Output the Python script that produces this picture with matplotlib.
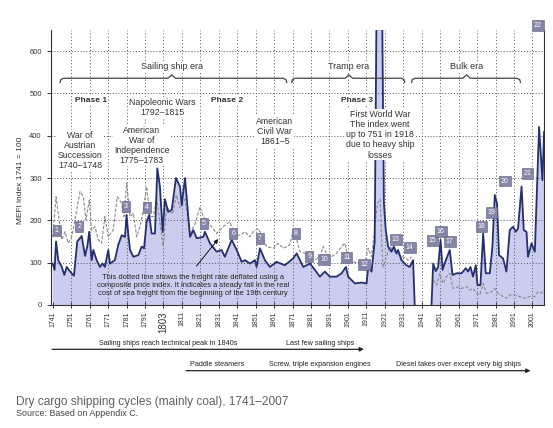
import numpy as np
import matplotlib
matplotlib.use("Agg")
import matplotlib.pyplot as plt

plt.rcParams['font.family'] = ['Liberation Sans', 'DejaVu Sans']

# MEFI index (1741 = 100), solid line; nan = no data during WW2
mefi_years = [1741, 1742, 1742.8, 1744, 1745.9, 1747.3, 1748.6, 1750.4, 1752.5, 1754.3,
              1756.7, 1758.5, 1759.7, 1760.8, 1762.1, 1763, 1764.8, 1766.6, 1768, 1769.3,
              1771.1, 1772, 1774.7, 1776.5, 1778.4, 1780.2, 1781, 1782, 1782.9, 1784.7,
              1787.4, 1789.2, 1790.5, 1791.9, 1793.3, 1794.6, 1796.4, 1797.7, 1799.1, 1800.6,
              1801.8, 1803.6, 1805.5, 1807.8, 1810, 1810.9, 1812.7, 1815.4, 1817.2, 1819,
              1822.6, 1823.5, 1826.2, 1829.8, 1832.5, 1834.3, 1838, 1840.7, 1843.4, 1845.2,
              1847.9, 1850.6, 1851.5, 1853.3, 1856, 1858.7, 1862.3, 1866.8, 1871.3, 1873.2,
              1876.8, 1880.4, 1883.1, 1885.8, 1888.5, 1891.2, 1894.8, 1897.6, 1899.9, 1901.1,
              1904.8, 1908.4, 1911.1, 1912, 1913.8, 1915.5, 1916.5, 1917.5, 1918.5, 1919.5,
              1920.5, 1921.5, 1922.8, 1924.6, 1925.9, 1927.3, 1928.2, 1930, 1932.7, 1934.5,
              1936.3, 1937.2, 1941, 1946.3, 1947.2, 1948.6, 1949.9, 1951.2, 1952.3, 1953.5,
              1954.8, 1956.2, 1957.7, 1959.9, 1962.6, 1964.9, 1966.1, 1967.4, 1968.8, 1970.3,
              1971.2, 1972.8, 1974.3, 1975.7, 1977.9, 1979.3, 1980.6, 1981.8, 1982.9, 1985.1,
              1986.9, 1988.7, 1990.5, 1992, 1993.2, 1995.1, 1996.3, 1997.8, 1998.6, 2000.5,
              2002.3, 2004.6, 2006.4, 2007.3]
mefi_values = [98, 83, 150, 106, 90, 71, 90, 79, 69, 150,
               163, 116, 138, 173, 106, 130, 106, 90, 98, 90,
               130, 98, 106, 142, 165, 161, 213, 165, 130, 114,
               118, 138, 134, 197, 213, 169, 169, 323, 280, 173,
               250, 220, 225, 300, 280, 236, 300, 161, 177, 158,
               161, 173, 146, 126, 130, 114, 154, 130, 102, 106,
               98, 106, 90, 134, 106, 90, 102, 94, 110, 122,
               90, 98, 83, 67, 79, 67, 67, 75, 90, 67,
               51, 53, 51, 90, 79, 150, 700, 740, 751, 720,
               240, 177, 138, 126, 138, 122, 130, 106, 94, 90,
               106, 0, np.nan, 0, 98, 80, 90, 154, 83, 100,
               114, 130, 71, 75, 75, 87, 79, 90, 67, 94,
               47, 47, 169, 75, 75, 138, 260, 240, 118, 110,
               79, 177, 185, 173, 181, 280, 177, 173, 114, 146,
               126, 421, 295, 409]

# deflated freight rate (dotted line)
defl_years = [1741, 1742.8, 1745.9, 1747.7, 1749.4, 1751.3, 1755.8, 1757.6, 1759, 1760.8,
              1762.1, 1763.9, 1765.7, 1767.5, 1769.3, 1771.1, 1773.8, 1776, 1778.4, 1779.6,
              1781.1, 1782.9, 1784.7, 1786.5, 1788.3, 1790.1, 1791.9, 1793.7, 1795.5, 1797.3,
              1800.9, 1802.7, 1806, 1808, 1810, 1812.7, 1815.4, 1818, 1820.8, 1822.6,
              1827.1, 1829.8, 1833.4, 1837, 1839.7, 1842.4, 1845.2, 1847.9, 1849.7, 1852.4,
              1854.2, 1856.9, 1860.5, 1863.2, 1865.9, 1869.5, 1871.5, 1873.5, 1875, 1877.7,
              1880.4, 1883.1, 1885.8, 1887.6, 1889.4, 1892.1, 1894.8, 1897.6, 1899.3, 1901.1,
              1903.8, 1907.5, 1910.2, 1912, 1913.8, 1915.5, 1917, 1918.5, 1919.3, 1920,
              1923.7, 1927.3, 1930.9, 1933.6, 1935.5, 1941, 1947.2, 1949, 1950.8, 1952.6,
              1954.4, 1956.2, 1958, 1960.7, 1962.6, 1965.3, 1967.1, 1968.8, 1970.7, 1972.5,
              1974.3, 1976.1, 1978.8, 1980.6, 1982.4, 1985.1, 1986.9, 1988.7, 1991.4, 1994.1,
              1996.8, 1999.5, 2002.3, 2004, 2005.9, 2007]
defl_values = [160, 256, 154, 173, 146, 161, 268, 256, 201, 248,
               177, 185, 154, 146, 209, 161, 177, 256, 240, 209,
               288, 209, 217, 161, 185, 225, 280, 209, 209, 252,
               138, 232, 215, 260, 230, 250, 170, 190, 232, 209,
               185, 169, 185, 197, 165, 165, 173, 161, 173, 181,
               165, 138, 134, 146, 134, 142, 180, 150, 126, 122,
               114, 106, 114, 138, 122, 114, 122, 138, 146, 114,
               102, 98, 98, 134, 114, 180, 240, 250, 150, 90,
               138, 122, 114, 106, 114, np.nan, 59, 47, 75, 51,
               67, 75, 39, 43, 39, 43, 35, 39, 28, 24,
               51, 28, 31, 39, 28, 20, 16, 24, 24, 20,
               16, 20, 20, 31, 28, 35]

# numbered cycle markers
cycle_years = [1743.2, 1755.4, 1780.7, 1792.2, 1823, 1838.8, 1853.3, 1872.8, 1880, 1888.1, 1900.3,
               1909.8, 1927, 1934.5, 1946.8, 1951.3, 1956.2, 1973.4, 1978.8, 1986, 1998.3, 2004]
cycle_values = [176, 185, 232, 230, 193, 168, 158, 168, 114, 108, 112,
                95, 155, 135, 152, 173, 150, 185, 219, 293, 311, 660]
cycle_labels = [str(i) for i in range(1, 23)]

tick_years = list(range(1741, 2002, 10))
tick_labels = [str(y) for y in tick_years]
tick_labels[6] = '1803'

era_names = ['Sailing ship era', 'Tramp era', 'Bulk era']
era_start = [1745, 1870.5, 1935.5]
era_end = [1867.8, 1931.8, 1994.5]
era_mid = [1805.5, 1901.5, 1965.3]

navy = '#24306e'
fill_c = '#cbcdef'
txt_c = '#333333'

fig = plt.figure(figsize=(5.53, 4.28), dpi=100)
ax = fig.add_axes([0.092, 0.2874, 0.8925, 0.6425])

my = np.array(mefi_years)
mv = np.array(mefi_values, dtype=float)
ax.fill_between(my, 0, mv, color=fill_c, lw=0, zorder=1)
ax.plot(my, np.clip(mv, 0, 800), color=navy, lw=1.3, zorder=3)
ax.plot(defl_years, defl_values, color='#8a8a8a', lw=0.8, ls=(0, (3, 1.5)), zorder=2.6)

ax.set_xlim(1740, 2007.5)
ax.set_ylim(0, 650)

# grid
ax.set_axisbelow(False)
ax.set_yticks(range(0, 700, 100))
ax.set_xticks(tick_years)
ax.set_xticklabels(tick_labels, rotation=90, fontsize=5, color=txt_c)
for lab in ax.get_xticklabels():
    if lab.get_text() == '1803':
        lab.set_fontsize(7)
ax.tick_params(axis='y', labelsize=5.5, labelcolor=txt_c, length=3, width=0.7, color='#333')
ax.tick_params(axis='x', direction='inout', length=5, width=0.7, color='#333', pad=2)
for y in range(100, 700, 100):
    ax.axhline(y, color='#555', lw=0.7, ls=(0, (1, 2)), zorder=2.5)
for x in tick_years[1:]:
    ax.axvline(x, color='#555', lw=0.7, ls=(0, (1, 2.4)), zorder=2.5)

for s in ['top']:
    ax.spines[s].set_visible(False)
for s in ['left', 'bottom', 'right']:
    ax.spines[s].set_color('#333')
    ax.spines[s].set_linewidth(0.8)

fig.text(21 / 553, 1 - 180 / 428, 'MEFI index 1741 = 100', rotation=90, fontsize=6,
         color=txt_c, ha='center', va='center')

# numbered boxes
for x, y, lab in zip(cycle_years, cycle_values, cycle_labels):
    ax.text(x, y, lab, fontsize=5, color='white', ha='center', va='center', zorder=6,
            clip_on=False,
            bbox=dict(boxstyle='square,pad=0.28', fc='#8585a8', ec='#5d5d80', lw=0.4))

# era braces
for name, x0, x1, xm in zip(era_names, era_start, era_end, era_mid):
    y = 536
    bx = [x0, x0 + 0.4, x0 + 2, xm - 2, xm, xm + 2, x1 - 2, x1 - 0.4, x1]
    by = [y - 10, y - 3, y, y, y + 8, y, y, y - 3, y - 10]
    ax.plot(bx, by, color='#444', lw=0.9, zorder=5)
    ax.text(xm, 563, name, fontsize=6.5, color=txt_c, ha='center', va='center', zorder=5,
            bbox=dict(fc='white', ec='none', pad=0.6))

wbox = dict(fc='white', ec='none', pad=0.6)
ax.text(1761.6, 484, 'Phase 1', fontsize=6, fontweight='bold', color=txt_c, ha='center',
        va='center', bbox=wbox, zorder=5)
ax.text(1835.3, 484, 'Phase 2', fontsize=6, fontweight='bold', color=txt_c, ha='center',
        va='center', bbox=wbox, zorder=5)
ax.text(1914.6, 484, 'Phase 3', fontsize=6, fontweight='bold', color=txt_c, ha='right',
        va='center', bbox=wbox, zorder=5)
ax.text(1800.6, 467, 'Napoleonic Wars\n1792\u20131815', fontsize=6.3, color=txt_c,
        ha='center', va='center', bbox=wbox, zorder=5, linespacing=1.15)
ax.text(1755.8, 365, 'War of\nAustrian\nSuccession\n1740\u20131748', fontsize=6.3,
        color=txt_c, ha='center', va='center', bbox=wbox, zorder=5, linespacing=1.15)
ax.text(1789.2, 377, 'American\nWar of\nIndependence\n1775\u20131783', fontsize=6.3,
        color=txt_c, ha='center', va='center', bbox=wbox, zorder=5, linespacing=1.15)
ax.text(1861.4, 411, 'American\nCivil War\n1861\u20135', fontsize=6.3, color=txt_c,
        ha='center', va='center', bbox=wbox, zorder=5, linespacing=1.15)
ax.text(1918.3, 402, 'First World War\nThe index went\nup to 751 in 1918\ndue to heavy ship\nlosses',
        fontsize=6.3, color=txt_c, ha='center', va='center', bbox=wbox, zorder=5,
        linespacing=1.15)
ax.text(1817, 45, 'This dotted line shows the freight rate deflated using a\n'
        'composite price index. It indicates a steady fall in the real\n'
        'cost of sea freight from the beginning of the 19th century',
        fontsize=5.4, color='#222', ha='center', va='center', zorder=5, linespacing=1.2)
ax.annotate('', xy=(1831.6, 161), xytext=(1818, 87),
            arrowprops=dict(arrowstyle='-|>', lw=0.7, color='#111', mutation_scale=6),
            zorder=5)

# technology arrows below the chart
def fx(px):
    return px / 553

def fy(py):
    return 1 - py / 428

for x0, x1, y in [(49.3, 366.7, 349.3), (183.3, 533.3, 370.7)]:
    fig.add_artist(matplotlib.patches.FancyArrowPatch(
        (fx(x0), fy(y)), (fx(x1), fy(y)), transform=fig.transFigure,
        arrowstyle='-|>', mutation_scale=6, lw=0.9, color='#222'))
for txt, x, y in [('Sailing ships reach technical peak in 1840s', 168, 343.3),
                  ('Last few sailing ships', 320, 343.3),
                  ('Paddle steamers', 216.7, 364),
                  ('Screw, triple expansion engines', 320, 364),
                  ('Diesel takes over except very big ships', 458, 364)]:
    fig.text(fx(x), fy(y), txt, fontsize=5.2, color='#222', ha='center', va='center')

fig.text(fx(16), fy(401.7), 'Dry cargo shipping cycles (mainly coal), 1741\u20132007',
         fontsize=8.6, color='#606060', ha='left', va='center')
fig.text(fx(16), fy(413), 'Source: Based on Appendix C.', fontsize=6.4, color='#444',
         ha='left', va='center')

fig.savefig('out.png', dpi=100)
